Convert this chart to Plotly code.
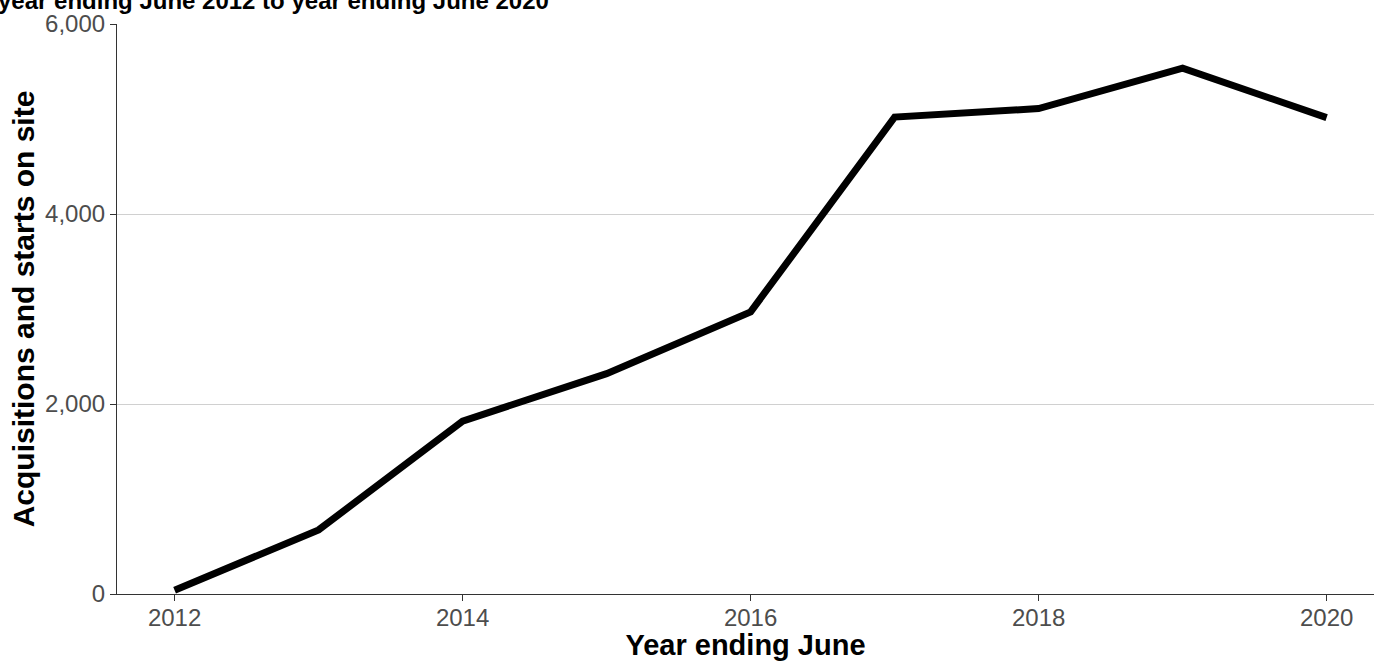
import plotly.graph_objects as go

years = [2012, 2013, 2014, 2015, 2016, 2017, 2018, 2019, 2020]
acquisitions = [40, 675, 1820, 2320, 2970, 5020, 5110, 5535, 5015]

x_ticks = [2012, 2014, 2016, 2018, 2020]
y_ticks = [0, 2000, 4000, 6000]

title_text = "year ending June 2012 to year ending June 2020"
x_title = "Year ending June"
y_title = "Acquisitions and starts on site"

FONT = "Arial, Liberation Sans, sans-serif"

fig = go.Figure()
fig.add_trace(go.Scatter(
    x=years, y=acquisitions, mode="lines",
    line=dict(color="black", width=7),
    hoverinfo="skip", showlegend=False,
))

fig.update_layout(
    width=1374, height=661,
    margin=dict(l=117, r=0, t=24, b=67, autoexpand=False),
    plot_bgcolor="white", paper_bgcolor="white",
    font=dict(family=FONT),
    showlegend=False,
)

fig.update_xaxes(
    range=[2011.6, 2020.329],
    tickvals=x_ticks, ticktext=[str(v) for v in x_ticks],
    showgrid=False, zeroline=False, automargin=False,
    showline=True, linecolor="#333333", linewidth=1.2,
    ticks="outside", ticklen=6, tickcolor="#333333", tickwidth=1.2,
    ticklabelstandoff=-4,
    tickfont=dict(size=24, color="#4D4D4D", family=FONT),
    title=dict(text="<b>" + x_title + "</b>", font=dict(size=29, color="black", family=FONT), standoff=13),
)
fig.update_yaxes(
    range=[0, 6000],
    tickvals=y_ticks, tickformat=",",
    showgrid=True, gridcolor="#D0D0D0", gridwidth=1.2,
    zeroline=False, automargin=False,
    showline=True, linecolor="#333333", linewidth=1.2,
    ticks="outside", ticklen=6, tickcolor="#333333", tickwidth=1.2,
    tickfont=dict(size=24, color="#4D4D4D", family=FONT),
    title=dict(text="<b>" + y_title + "</b>", font=dict(size=30, color="black", family=FONT), standoff=1),
)

fig.add_annotation(
    text="<b>" + title_text + "</b>",
    xref="paper", yref="paper", x=0, y=1,
    xanchor="left", yanchor="bottom",
    xshift=-121, yshift=8,
    showarrow=False,
    font=dict(size=24, color="black", family=FONT),
)

fig.write_html("out.html", config={"displayModeBar": False},
               post_script="document.body.style.margin='0';")
